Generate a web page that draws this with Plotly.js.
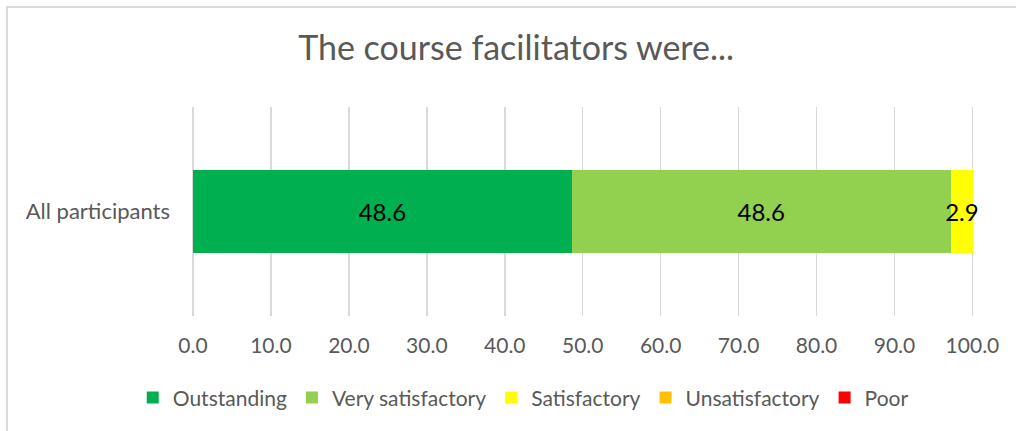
<!DOCTYPE html>
<html>
<head>
<meta charset="utf-8">
<script src="https://cdn.plot.ly/plotly-3.0.1.min.js"></script>
<style>
html,body{margin:0;padding:0;overflow:hidden;background:#fff;}
#wrap{position:relative;width:1016px;height:431px;}
#chart{width:1016px;height:431px;}
#frame{position:absolute;left:6px;top:6px;width:1100px;height:600px;border:2px solid #d9d9d9;pointer-events:none;box-sizing:border-box;}
</style>
</head>
<body>
<div id="wrap"><div id="chart"></div><div id="frame"></div></div>
<script>
const categories = ["All participants"];
const seriesNames = ["Outstanding", "Very satisfactory", "Satisfactory", "Unsatisfactory", "Poor"];
const outstanding = [48.6];
const verySatisfactory = [48.6];
const satisfactory = [2.9];
const unsatisfactory = [0];
const poor = [0];
const colors = ["#00B050", "#92D050", "#FFFF00", "#FFC000", "#FF0000"];
const xTickVals = [0,10,20,30,40,50,60,70,80,90,100];
const chartTitle = "The course facilitators were...";

const seriesValues = [outstanding, verySatisfactory, satisfactory, unsatisfactory, poor];
const FONT = "Lato, 'Open Sans', sans-serif";

const traces = seriesValues.map((vals, i) => ({
  type: "bar",
  orientation: "h",
  name: seriesNames[i],
  y: categories,
  x: vals,
  marker: {color: colors[i], line: {width: 0}},
  text: vals.map(v => v > 0 ? v.toFixed(1) : ""),
  textposition: "inside",
  insidetextanchor: "middle",
  textangle: 0,
  constraintext: "none",
  cliponaxis: false,
  textfont: {family: FONT, size: 24, color: "#000000"},
  hoverinfo: "skip"
}));

const layout = {
  width: 1016, height: 431,
  margin: {l: 193, r: 42, t: 107, b: 115},
  paper_bgcolor: "#ffffff",
  plot_bgcolor: "#ffffff",
  barmode: "stack",
  bargap: 0.6,
  showlegend: true,
  font: {family: FONT, color: "#595959"},
  title: {
    text: chartTitle,
    font: {family: FONT, size: 34, color: "#595959"},
    x: 0.508, xanchor: "center",
    y: 0.889, yanchor: "middle", yref: "container"
  },
  xaxis: {
    range: [0, 100.2],
    tickvals: xTickVals,
    ticktext: xTickVals.map(v => v.toFixed(1)),
    showgrid: true,
    gridcolor: "#d9d9d9",
    gridwidth: 1.5,
    zeroline: true,
    zerolinecolor: "#d9d9d9",
    zerolinewidth: 1.5,
    showline: false,
    ticks: "",
    ticklabelstandoff: 15,
    tickfont: {family: FONT, size: 21, color: "#595959"},
    fixedrange: true
  },
  yaxis: {
    showgrid: false,
    zeroline: false,
    showline: false,
    ticks: "",
    ticklabelstandoff: 22,
    tickfont: {family: FONT, size: 22, color: "#595959"},
    fixedrange: true
  },
  legend: {
    orientation: "h",
    xref: "container",
    yref: "container",
    x: 0.515, xanchor: "center",
    y: 0.077, yanchor: "middle",
    font: {family: FONT, size: 21, color: "#595959"},
    itemwidth: 30,
    traceorder: "normal"
  }
};

Plotly.newPlot("chart", traces, layout, {staticPlot: true, displayModeBar: false});
</script>
</body>
</html>
